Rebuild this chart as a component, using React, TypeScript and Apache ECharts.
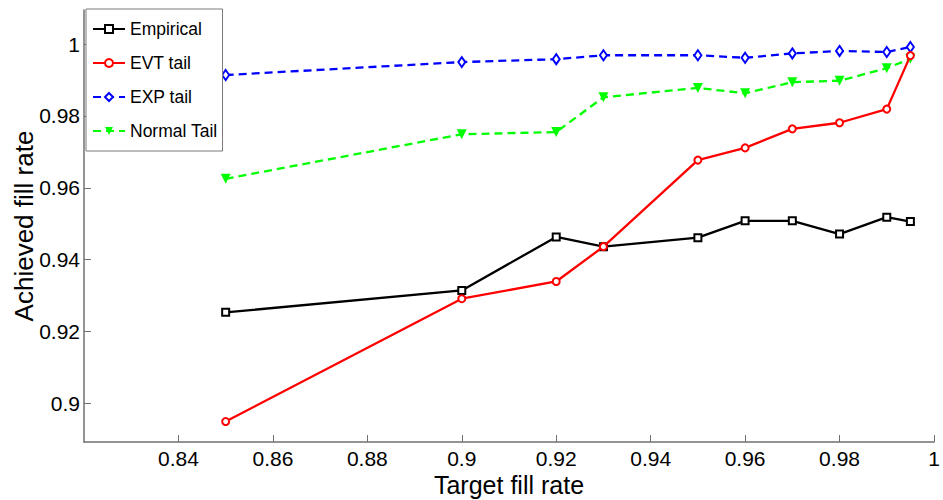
import React, { useEffect, useRef } from "react";
import * as echarts from "echarts";

const targetRates = [0.85, 0.9, 0.92, 0.93, 0.95, 0.96, 0.97, 0.98, 0.99, 0.995];
const empirical = [0.9253, 0.9314, 0.9463, 0.9436, 0.9461, 0.9508, 0.9508, 0.9471, 0.9518, 0.9506];
const evtTail = [0.8949, 0.9291, 0.9339, 0.9436, 0.9677, 0.9711, 0.9764, 0.9781, 0.9819, 0.9968];
const expTail = [0.9914, 0.995, 0.9958, 0.9969, 0.9969, 0.9962, 0.9974, 0.9981, 0.9978, 0.9992];
const normalTail = [0.9625, 0.9749, 0.9755, 0.9852, 0.9878, 0.9863, 0.9894, 0.9898, 0.9933, 0.9959];

const xTicks = [0.84, 0.86, 0.88, 0.9, 0.92, 0.94, 0.96, 0.98, 1];
const yTicks = [0.9, 0.92, 0.94, 0.96, 0.98, 1];

const pairs = (ys: number[]) => targetRates.map((x, i) => [x, ys[i]]);

export default function App() {
  const ref = useRef<HTMLDivElement>(null);
  useEffect(() => {
    if (!ref.current) return;
    const chart = echarts.init(ref.current, undefined, { renderer: "svg" });
    const font = "'Liberation Sans', Arial, sans-serif";
    const axisColor = "#707070";
    chart.setOption({
      animation: false,
      backgroundColor: "#fff",
      textStyle: { fontFamily: font },
      grid: { left: 84, right: 9, top: 10, bottom: 58, containLabel: false, outerBoundsMode: "none" },
      legend: {
        orient: "vertical",
        left: 86,
        top: 9,
        backgroundColor: "#fff",
        borderColor: "#7a7a7a",
        borderWidth: 1,
        borderRadius: 0,
        padding: [11, 5, 11, 6],
        itemWidth: 32,
        itemHeight: 10,
        itemGap: 16,
        textStyle: { fontSize: 17.5, color: "#000", fontFamily: font, lineHeight: 18 },
        data: ["Empirical", "EVT tail", "EXP tail", "Normal Tail"],
      },
      xAxis: {
        type: "value",
        min: 0.82,
        max: 1,
        name: "Target fill rate",
        nameLocation: "middle",
        nameGap: 30,
        nameMoveOverlap: false,
        nameTextStyle: { fontSize: 25, color: "#000", fontFamily: font, lineHeight: 25 },
        axisLine: { show: true, lineStyle: { color: axisColor, width: 1.5 } },
        axisTick: { show: true, inside: true, length: 7, lineStyle: { color: axisColor }, customValues: xTicks },
        axisLabel: { fontSize: 21, color: "#000", margin: 6, lineHeight: 21, customValues: xTicks, fontFamily: font },
        splitLine: { show: false },
      },
      yAxis: {
        type: "value",
        min: 0.8892,
        max: 1.0095,
        name: "Achieved fill rate",
        nameLocation: "middle",
        nameGap: 47,
        nameMoveOverlap: false,
        nameTextStyle: { fontSize: 26, color: "#000", fontFamily: font },
        axisLine: { show: true, lineStyle: { color: axisColor, width: 1.5 } },
        axisTick: { show: true, inside: true, length: 7, lineStyle: { color: axisColor }, customValues: yTicks },
        axisLabel: { fontSize: 21, color: "#000", margin: 4, customValues: yTicks, fontFamily: font },
        splitLine: { show: false },
      },
      series: [
        {
          name: "Empirical",
          type: "line",
          data: pairs(empirical),
          symbol: "emptyRect",
          symbolSize: 7,
          lineStyle: { color: "#000", width: 2.3 },
          itemStyle: { color: "#000", borderWidth: 1.8 },
          z: 3,
        },
        {
          name: "EVT tail",
          type: "line",
          data: pairs(evtTail),
          symbol: "emptyCircle",
          symbolSize: 7,
          lineStyle: { color: "#ff0000", width: 2.3 },
          itemStyle: { color: "#ff0000", borderWidth: 1.8 },
          z: 4,
        },
        {
          name: "EXP tail",
          type: "line",
          data: pairs(expTail),
          symbol: "emptyDiamond",
          symbolSize: [7, 10],
          lineStyle: { color: "#0000ff", width: 2.3, type: [8, 5] },
          itemStyle: { color: "#0000ff", borderWidth: 2.2 },
          z: 3,
        },
        {
          name: "Normal Tail",
          type: "line",
          data: pairs(normalTail),
          symbol: "triangle",
          symbolRotate: 180,
          symbolSize: 10,
          lineStyle: { color: "#00ff00", width: 2.3, type: [8, 5] },
          itemStyle: { color: "#00ff00", borderWidth: 1 },
          z: 3,
        },
      ],
    });
    return () => chart.dispose();
  }, []);
  return <div ref={ref} style={{ width: 943, height: 500, position: "absolute", left: 0, top: 0 }} />;
}
